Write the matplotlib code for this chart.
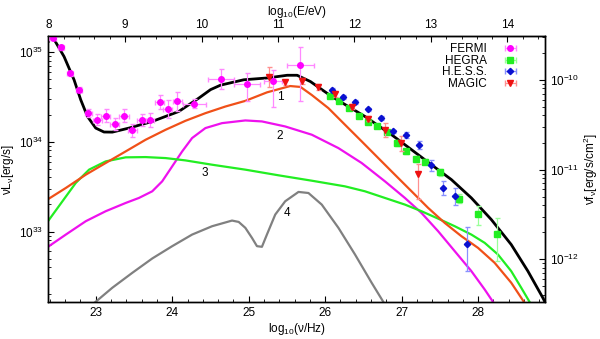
"""
SED of the source: model components 1-4 and their sum
against FERMI, HEGRA, H.E.S.S. and MAGIC points.
"""
import numpy as np
import matplotlib
matplotlib.use("Agg")
import matplotlib.pyplot as plt
from matplotlib.ticker import NullFormatter

plt.rcParams['font.family'] = ['Liberation Sans', 'DejaVu Sans']
plt.rcParams['mathtext.fontset'] = 'custom'
plt.rcParams['mathtext.rm'] = 'Liberation Sans'
plt.rcParams['mathtext.it'] = 'Liberation Sans'

# log10(E/eV) = log10(nu/Hz) - 14.383 ; nu f_nu = nu L_nu / 10^44.69
HZ_TO_EV = 14.383
FLUX_SHIFT = 44.69

# model curves, log10(nu) and log10(nu L_nu)
tot_x = [22.38, 22.435, 22.586, 22.717, 22.804, 22.892, 23.0, 23.108, 23.217, 23.435,
         23.739, 24.086, 24.347, 24.501, 24.632, 24.936, 25.242, 25.503, 25.633, 25.807,
         26.086, 26.520, 26.868, 27.129, 27.389, 27.650, 27.911, 28.172, 28.432, 28.650,
         28.845, 28.90]
tot_y = [35.24, 35.17, 34.948, 34.689, 34.467, 34.281, 34.152, 34.108, 34.107, 34.152,
         34.226, 34.337, 34.485, 34.58, 34.63, 34.69, 34.71, 34.74, 34.74, 34.67,
         34.503, 34.281, 34.078, 33.911, 33.744, 33.578, 33.374, 33.133, 32.855, 32.559,
         32.263, 32.17]

c1_x = [22.38, 22.609, 22.870, 23.130, 23.391, 23.652, 23.913, 24.173, 24.434, 24.695,
        24.956, 25.24, 25.542, 25.677, 25.825, 26.042, 26.259, 26.477, 26.694, 26.911,
        27.129, 27.346, 27.563, 27.781, 27.998, 28.215, 28.432, 28.606, 28.65]
c1_y = [33.362, 33.485, 33.633, 33.763, 33.892, 34.022, 34.133, 34.233, 34.318, 34.392,
        34.455, 34.55, 34.62, 34.61, 34.52, 34.374, 34.189, 34.004, 33.818, 33.633,
        33.448, 33.263, 33.096, 32.948, 32.818, 32.652, 32.430, 32.207, 32.14]

c2_x = [22.38, 22.609, 22.870, 23.130, 23.391, 23.565, 23.739, 23.869, 24.0, 24.13,
        24.26, 24.434, 24.651, 24.956, 25.173, 25.477, 25.825, 26.173, 26.477, 26.781,
        27.042, 27.259, 27.476, 27.694, 27.911, 28.085, 28.193, 28.24]
c2_y = [32.832, 32.966, 33.115, 33.226, 33.318, 33.374, 33.448, 33.559, 33.726, 33.892,
        34.041, 34.152, 34.207, 34.237, 34.226, 34.170, 34.078, 33.929, 33.763, 33.559,
        33.374, 33.207, 33.004, 32.781, 32.559, 32.355, 32.218, 32.14]

c3_x = [22.38, 22.565, 22.739, 22.913, 23.130, 23.391, 23.652, 23.913, 24.173, 24.521,
        24.956, 25.390, 25.825, 26.259, 26.520, 26.781, 27.042, 27.259, 27.476, 27.694,
        27.911, 28.085, 28.259, 28.432, 28.563, 28.671, 28.71]
c3_y = [33.12, 33.337, 33.541, 33.689, 33.781, 33.826, 33.829, 33.818, 33.792, 33.744,
        33.689, 33.626, 33.566, 33.503, 33.448, 33.374, 33.300, 33.226, 33.144, 33.059,
        32.966, 32.874, 32.744, 32.559, 32.374, 32.218, 32.14]

c4_x = [22.913, 23.0, 23.217, 23.478, 23.739, 24.0, 24.26, 24.521, 24.782, 24.869,
        24.956, 25.043, 25.108, 25.173, 25.238, 25.347, 25.477, 25.651, 25.781, 25.955,
        26.173, 26.390, 26.607, 26.759, 26.80]
c4_y = [32.152, 32.218, 32.374, 32.540, 32.700, 32.837, 32.966, 33.059, 33.122, 33.107,
        33.041, 32.929, 32.837, 32.830, 32.966, 33.189, 33.337, 33.441, 33.429, 33.300,
        33.041, 32.744, 32.430, 32.218, 32.15]

# data points: log10(nu), log10(nu L_nu), errors in dex (up, down) and x half-width
fermi_x = [22.435, 22.55, 22.665, 22.782, 22.905, 23.022, 23.130, 23.248, 23.369, 23.478,
           23.600, 23.708, 23.834, 23.943, 24.065, 24.291, 24.637, 24.977, 25.317, 25.677]
fermi_y = [35.16, 35.05, 34.76, 34.58, 34.319, 34.244, 34.292, 34.197, 34.292, 34.126,
           34.244, 34.244, 34.441, 34.367, 34.448, 34.422, 34.70, 34.64, 34.68, 34.85]
fermi_up = [0.03, 0.03, 0.03, 0.03, 0.04, 0.06, 0.07, 0.07, 0.07, 0.07,
            0.07, 0.08, 0.08, 0.10, 0.11, 0.05, 0.11, 0.13, 0.12, 0.20]
fermi_dn = [0.03, 0.03, 0.03, 0.03, 0.04, 0.06, 0.07, 0.07, 0.07, 0.07,
            0.07, 0.08, 0.08, 0.10, 0.11, 0.05, 0.11, 0.19, 0.29, 0.40]
fermi_xe = [0.04, 0.04, 0.04, 0.04, 0.05, 0.06, 0.06, 0.06, 0.06, 0.06,
            0.06, 0.06, 0.06, 0.06, 0.06, 0.15, 0.17, 0.17, 0.12, 0.18]

hegra_x = [26.064, 26.185, 26.307, 26.438, 26.559, 26.683, 26.811, 26.933, 27.055,
           27.185, 27.309, 27.498, 27.743, 27.996, 28.244]
hegra_y = [34.51, 34.456, 34.374, 34.289, 34.222, 34.174, 34.103, 33.986, 33.892,
           33.808, 33.778, 33.661, 33.367, 33.197, 32.967]
hegra_up = [0.02, 0.02, 0.02, 0.02, 0.02, 0.02, 0.02, 0.03, 0.03, 0.03, 0.03, 0.04,
            0.05, 0.09, 0.18]
hegra_dn = [0.02, 0.02, 0.02, 0.02, 0.02, 0.02, 0.02, 0.03, 0.03, 0.03, 0.03, 0.04,
            0.05, 0.12, 0.30]

hess_x = [26.090, 26.233, 26.396, 26.563, 26.725, 26.889, 27.061, 27.228, 27.387,
          27.541, 27.693, 27.852]
hess_y = [34.578, 34.50, 34.444, 34.359, 34.263, 34.114, 34.074, 33.963, 33.739,
          33.486, 33.40, 32.856]
hess_up = [0.02, 0.02, 0.02, 0.02, 0.02, 0.02, 0.03, 0.04, 0.06, 0.08, 0.08, 0.19]
hess_dn = [0.02, 0.02, 0.02, 0.02, 0.02, 0.02, 0.03, 0.04, 0.06, 0.08, 0.11, 0.30]

magic_x = [25.259, 25.477, 25.695, 25.907, 26.129, 26.347, 26.563, 26.781, 26.992, 27.208]
magic_y = [34.722, 34.661, 34.678, 34.608, 34.526, 34.392, 34.258, 34.133, 33.981, 33.637]
magic_up = [0.11, 0.03, 0.03, 0.03, 0.03, 0.03, 0.03, 0.08, 0.08, 0.11]
magic_dn = [0.11, 0.03, 0.03, 0.03, 0.03, 0.03, 0.03, 0.08, 0.08, 0.27]

curve_labels = ['1', '2', '3', '4']
label_pos = [(25.41, 34.50), (25.41, 34.06), (24.42, 33.65), (25.50, 33.21)]


def yerr(logy, up, dn):
    logy, up, dn = np.array(logy), np.array(up), np.array(dn)
    y = 10 ** logy
    return y, [y - 10 ** (logy - dn), 10 ** (logy + up) - y]


fig = plt.figure(figsize=(6.0, 3.39), dpi=100)
ax = fig.add_axes([0.0805, 0.108, 0.828, 0.786])

ax.plot(c2_x, 10 ** np.array(c2_y), color='#ee11ee', lw=1.6, zorder=2)
ax.plot(c3_x, 10 ** np.array(c3_y), color='#22ee22', lw=1.6, zorder=2)
ax.plot(c4_x, 10 ** np.array(c4_y), color='#808080', lw=1.6, zorder=2)
ax.plot(c1_x, 10 ** np.array(c1_y), color='#f05018', lw=1.6, zorder=2)
ax.plot(tot_x, 10 ** np.array(tot_y), color='black', lw=2.0, zorder=3)

y, e = yerr(fermi_y, fermi_up, fermi_dn)
ax.errorbar(fermi_x, y, yerr=e, xerr=fermi_xe, fmt='o', ms=4, color='#ff00ff',
            ecolor='#ff88ff', elinewidth=0.9, capsize=1.8, zorder=4)
y, e = yerr(hegra_y, hegra_up, hegra_dn)
ax.errorbar(hegra_x, y, yerr=e, fmt='s', ms=4.5, color='#22ee22',
            ecolor='#99ff99', elinewidth=0.9, capsize=1.8, zorder=4)
y, e = yerr(hess_y, hess_up, hess_dn)
ax.errorbar(hess_x, y, yerr=e, fmt='D', ms=3.2, color='#0a10d0',
            ecolor='#8890ff', elinewidth=0.9, capsize=1.8, zorder=5)
y, e = yerr(magic_y, magic_up, magic_dn)
ax.errorbar(magic_x, y, yerr=e, fmt='v', ms=4, color='#ee1111',
            ecolor='#ff9090', elinewidth=0.9, capsize=1.8, zorder=5)

for lab, (lx, ly) in zip(curve_labels, label_pos):
    ax.text(lx, 10 ** ly, lab, fontsize=8.5, ha='center', va='center')

# legend proxies: horizontal bar with caps
handles = []
for fmt, ms, c, ec in [('o', 4, '#ff00ff', '#ff88ff'), ('s', 4.5, '#22ee22', '#99ff99'),
                       ('D', 3.2, '#0a10d0', '#8890ff'), ('v', 4, '#ee1111', '#ff9090')]:
    h = ax.errorbar([np.nan], [np.nan], xerr=[1], fmt=fmt, ms=ms, color=c, ecolor=ec,
                    elinewidth=0.9, capsize=2)
    handles.append(h)
ax.legend(handles, ['FERMI', 'HEGRA', 'H.E.S.S.', 'MAGIC'], loc='upper right',
          bbox_to_anchor=(0.985, 1.004), frameon=False, markerfirst=False, fontsize=8.5,
          handlelength=3.2, handletextpad=0.4, labelspacing=-0.04, borderaxespad=0.3)

xmin, xmax = 22.38, 28.875
ymin, ymax = 10 ** 32.211, 10 ** 35.178
ax.set_xlim(xmin, xmax)
ax.set_yscale('log')
ax.set_ylim(ymin, ymax)
ax.set_yticks([1e33, 1e34, 1e35])
ax.set_xticks([23, 24, 25, 26, 27, 28])
ax.set_xticks(np.arange(22.4, 28.9, 0.2), minor=True)
ax.yaxis.set_minor_formatter(NullFormatter())
ax.tick_params(which='both', direction='in', labelsize=8.5, top=False, right=False)
ax.tick_params(which='major', length=4)
ax.tick_params(which='minor', length=2)
ax.set_xlabel(r'log$_{10}$($\nu$/Hz)', fontsize=8.5, labelpad=1)
ax.set_ylabel(r'$\nu$L$_\nu$[erg/s]', fontsize=8.5, labelpad=2)

top = ax.secondary_xaxis('top', functions=(lambda x: x - HZ_TO_EV, lambda x: x + HZ_TO_EV))
top.set_xticks([8, 9, 10, 11, 12, 13, 14])
top.set_xticks(np.arange(8.0, 14.5, 0.2), minor=True)
top.tick_params(which='both', direction='in', labelsize=8.5)
top.tick_params(which='major', length=4)
top.tick_params(which='minor', length=2)
top.set_xlabel(r'log$_{10}$(E/eV)', fontsize=8.5, labelpad=3)

rax = ax.twinx()
rax.set_yscale('log')
rax.set_ylim(ymin / 10 ** FLUX_SHIFT, ymax / 10 ** FLUX_SHIFT)
rax.set_yticks([1e-12, 1e-11, 1e-10])
rax.yaxis.set_minor_formatter(NullFormatter())
rax.tick_params(which='both', direction='in', labelsize=8.5)
rax.tick_params(which='major', length=4)
rax.tick_params(which='minor', length=2)
rax.set_ylabel(r'$\nu$f$_\nu$[erg/s/cm$^2$]', fontsize=8.5, labelpad=2)

for a in (ax, rax):
    for s in a.spines.values():
        s.set_linewidth(1.0)

fig.savefig('out.png', dpi=100)
